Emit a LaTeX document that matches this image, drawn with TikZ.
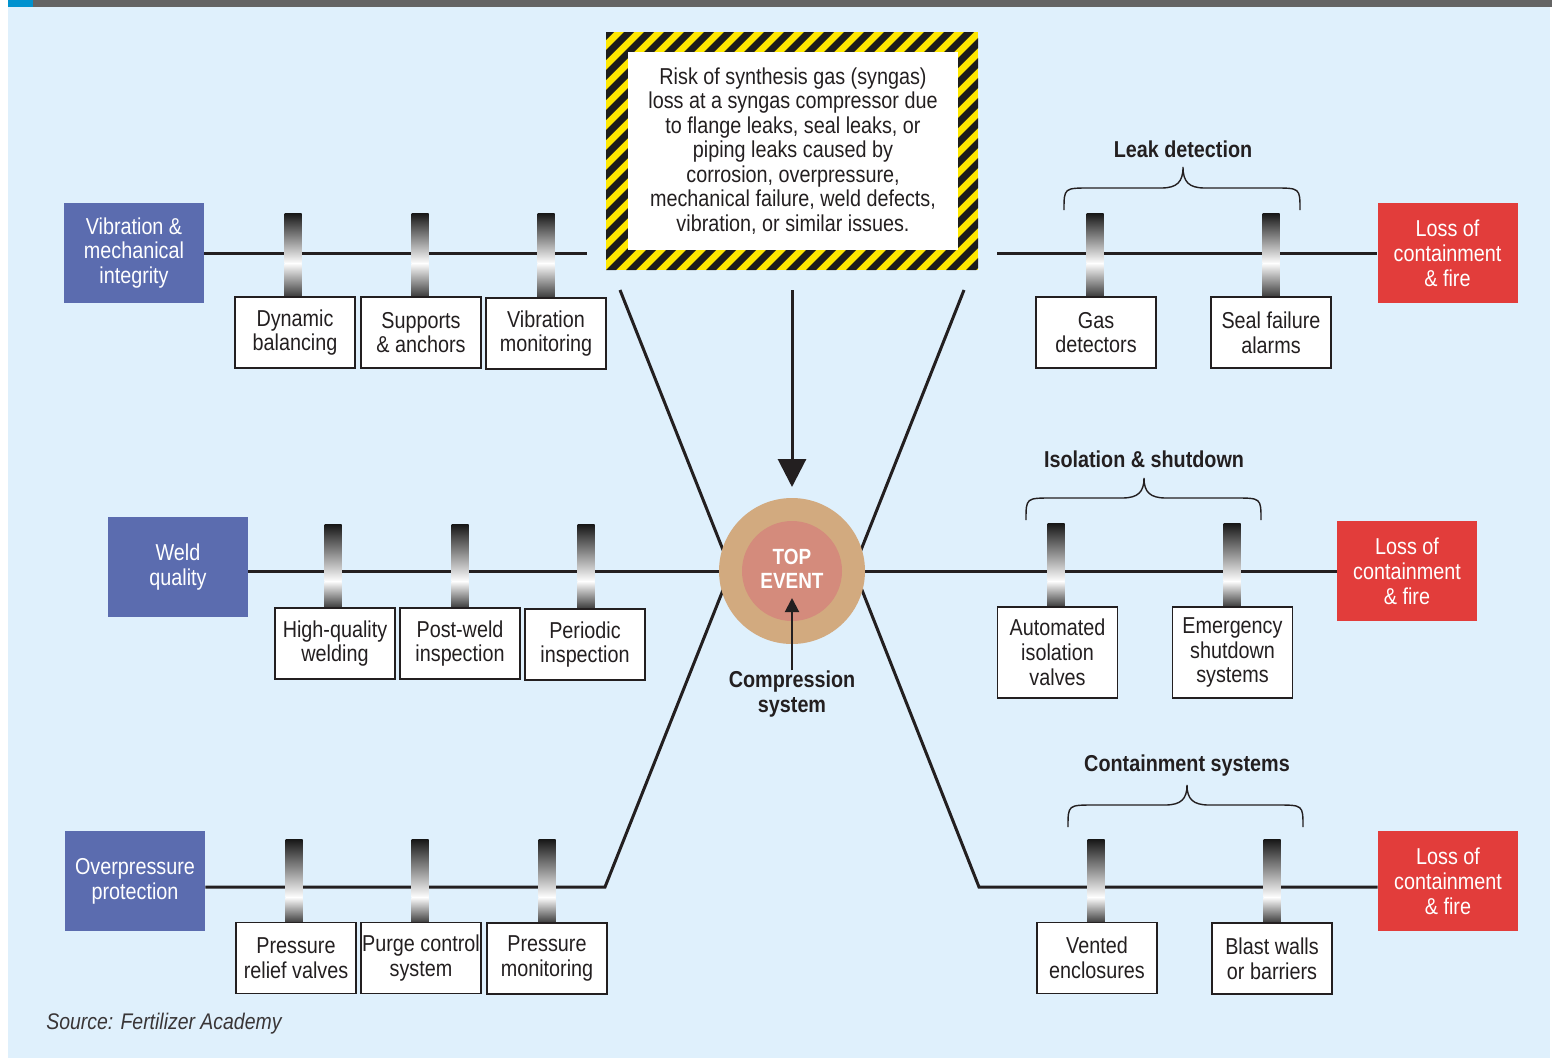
\documentclass[tikz,border=0pt]{standalone}
\usepackage{fontspec}
\setmainfont{Liberation Sans}[FakeStretch=0.86]
\usetikzlibrary{arrows.meta}
\definecolor{bgblue}{HTML}{DFF0FC}
\definecolor{topgray}{HTML}{646464}
\definecolor{accentblue}{HTML}{0092CF}
\definecolor{causeblue}{HTML}{5B6CAF}
\definecolor{consred}{HTML}{E23D3B}
\definecolor{ringtan}{HTML}{D2AA7F}
\definecolor{corepink}{HTML}{D48B7C}
\definecolor{hazyellow}{HTML}{FFE800}
\definecolor{stripeblack}{HTML}{1D1D1B}
\definecolor{linecol}{HTML}{231F20}
\definecolor{bardark}{HTML}{161616}
\pgfdeclarelayer{backlayer}
\pgfdeclarelayer{linelayer}
\pgfsetlayers{backlayer,linelayer,main}
\newcommand\boxfont{\fontsize{11.5}{12.4}\selectfont}
\newcommand\bowbar[4]{%
  \shade[top color=bardark, bottom color=white] (#1-8.5,#2) rectangle (#1+8.5,#3+10.5);
  \shade[top color=white, bottom color=bardark!85] (#1-8.5,#3+10) rectangle (#1+8.5,#4);}
\newcommand\mybrace[5]{% x1, xc, x2, yend, ytip
  \draw[bracepath] (#1,#4) .. controls (#1,#4-22) .. (#1+26,#4-22) -- (#2-22,#4-22)
    .. controls (#2-6,#4-22) and (#2,#4-28) .. (#2,#5)
    .. controls (#2,#4-28) and (#2+6,#4-22) .. (#2+22,#4-22) -- (#3-26,#4-22)
    .. controls (#3,#4-22) .. (#3,#4);}
\tikzset{
  mainline/.style={draw=linecol, line width=1.5pt},
  bracepath/.style={draw=linecol, line width=0.7pt},
  causebox/.style={fill=causeblue, text=white, minimum width=70pt, minimum height=50pt, inner sep=0pt, align=center, font=\boxfont},
  consbox/.style={fill=consred, text=white, minimum width=70pt, minimum height=50pt, inner sep=0pt, align=center, font=\boxfont},
  barbox/.style={draw=linecol, line width=0.8pt, fill=white, text=linecol, minimum width=60pt, minimum height=35.5pt, inner sep=0pt, align=center, font=\boxfont},
  tallbox/.style={barbox, minimum height=45.5pt},
  grouplabel/.style={font=\boxfont\bfseries, text=linecol, inner sep=0pt},
}
\begin{document}
\begin{tikzpicture}[x=0.5pt, y=-0.5pt]
\useasboundingbox (0,0) rectangle (1552,1061);
\begin{pgfonlayer}{backlayer}
  \fill[white] (0,0) rectangle (1552,1061);
  \fill[bgblue] (8,7) rectangle (1550,1058);
  \fill[topgray] (8,0) rectangle (1552,7);
  \fill[accentblue] (8,0) rectangle (33,7);
\end{pgfonlayer}

% threats and consequences
\node[causebox] (vib) at (134,253) {Vibration \&\\mechanical\\integrity};
\node[causebox] (weld) at (178,567) {Weld\\quality};
\node[causebox] (over) at (135,881) {Overpressure\\protection};
\node[consbox] (cons1) at (1447.5,253) {Loss of\\containment\\\& fire};
\node[consbox] (cons2) at (1407,571) {Loss of\\containment\\\& fire};
\node[consbox] (cons3) at (1448,881) {Loss of\\containment\\\& fire};

% top event
\node[circle, fill=ringtan, minimum size=73pt, inner sep=0pt] (topouter) at (792,571) {};
\node[circle, fill=corepink, minimum size=50pt, inner sep=0pt] (topinner) at (792,571) {};
\node[font=\fontsize{11}{12}\selectfont\bfseries, text=white, align=center, inner sep=0pt] (toptext) at (792,569) {TOP\\EVENT};
\node[font=\boxfont\bfseries, text=linecol, align=center, inner sep=0pt] (comp) at (792,694) {Compression\\system};
\coordinate (comptip) at (792,598);

% coordinates of line ends
\coordinate (vibend) at (587,253);
\coordinate (c1start) at (997,253);
\coordinate (tl) at (620,290);
\coordinate (tlend) at (725,555);
\coordinate (tr) at (964,290);
\coordinate (trend) at (859,555);
\coordinate (bl) at (605,887);
\coordinate (blend) at (725,585);
\coordinate (br) at (979,887);
\coordinate (brend) at (860,585);
\coordinate (arrstart) at (792,290);
\coordinate (arrtip) at (792,487);

\begin{pgfonlayer}{linelayer}
  \draw[mainline] (vib.east) -- (vibend);
  \draw[mainline] (c1start) -- (cons1.west);
  \draw[mainline] (topouter.west -| weld.east) -- (topouter.west);
  \draw[mainline] (topouter.east) -- (cons2.west);
  \draw[mainline] (bl -| over.east) -- (bl) -- (blend);
  \draw[mainline] (br -| cons3.west) -- (br) -- (brend);
  \draw[mainline] (tl) -- (tlend);
  \draw[mainline] (tr) -- (trend);
  \draw[mainline, -{Triangle[length=14pt,width=14pt]}] (arrstart) -- (arrtip);
\end{pgfonlayer}
\draw[draw=linecol, line width=1pt, -{Triangle[length=7pt,width=7pt]}] (comp.north) -- (comptip);

% barrier bars
\bowbar{293}{213}{253}{297}
\bowbar{420}{213}{253}{297}
\bowbar{546}{213}{253}{298}
\bowbar{1095}{213}{253}{297}
\bowbar{1271}{213}{253}{297}
\bowbar{333}{524}{571}{608}
\bowbar{460}{524}{571}{608}
\bowbar{586}{524}{571}{609}
\bowbar{1056}{523}{571}{607}
\bowbar{1232}{523}{571}{607}
\bowbar{294}{839}{887}{923}
\bowbar{420}{839}{887}{923}
\bowbar{547}{839}{887}{923}
\bowbar{1096}{839}{887}{923}
\bowbar{1272}{839}{887}{923}

% barrier boxes
\node[barbox] (b1) at (295,332.5) {Dynamic\\balancing};
\node[barbox] (b2) at (421,332.5) {Supports\\\& anchors};
\node[barbox] (b3) at (546,333.5) {Vibration\\monitoring};
\node[barbox] (b4) at (1096,332.5) {Gas\\detectors};
\node[barbox] (b5) at (1271,332.5) {Seal failure\\alarms};
\node[barbox] (b6) at (335,643.5) {High-quality\\welding};
\node[barbox] (b7) at (460,643.5) {Post-weld\\inspection};
\node[barbox] (b8) at (585,644.5) {Periodic\\inspection};
\node[tallbox] (b9) at (1057.5,652.5) {Automated\\isolation\\valves};
\node[tallbox] (b10) at (1232.5,652.5) {Emergency\\shutdown\\systems};
\node[barbox] (b11) at (296,958) {Pressure\\relief valves};
\node[barbox] (b12) at (421,958) {Purge control\\system};
\node[barbox] (b13) at (547,958.5) {Pressure\\monitoring};
\node[barbox] (b14) at (1097,958) {Vented\\enclosures};
\node[barbox] (b15) at (1272,958.5) {Blast walls\\or barriers};

% group braces and labels
\mybrace{1064}{1183}{1300}{210}{167}
\node[grouplabel] (g1) at (1183,149) {Leak detection};
\mybrace{1026}{1144}{1261}{520}{478}
\node[grouplabel] (g2) at (1144,459) {Isolation \& shutdown};
\mybrace{1068}{1187}{1303}{827}{785}
\node[grouplabel] (g3) at (1187,766) {Containment systems};

% hazard box
\node[minimum width=186pt, minimum height=119pt, inner sep=0pt] (hazframe) at (792,151) {};
\begin{scope}
  \clip (606,32) rectangle (978,270);
  \fill[hazyellow] (606,32) rectangle (978,270);
  \foreach \i in {-260,-240,...,380}{
    \fill[stripeblack] (606+\i,270) -- (616+\i,270) -- (854+\i,32) -- (844+\i,32) -- cycle;}
\end{scope}
\node[fill=white, minimum width=165pt, minimum height=99pt, inner sep=0pt, align=center, text=linecol, font=\fontsize{11.5}{12.25}\selectfont] (hazard) at (793,151) {Risk of synthesis gas (syngas)\\loss at a syngas compressor due\\to flange leaks, seal leaks, or\\piping leaks caused by\\corrosion, overpressure,\\mechanical failure, weld defects,\\vibration, or similar issues.};

% source
\node[anchor=west, inner sep=0pt, font=\fontsize{11.3}{13}\selectfont\itshape, text=linecol!90] (src) at (46,1024) {Source: Fertilizer Academy};
\end{tikzpicture}
\end{document}
